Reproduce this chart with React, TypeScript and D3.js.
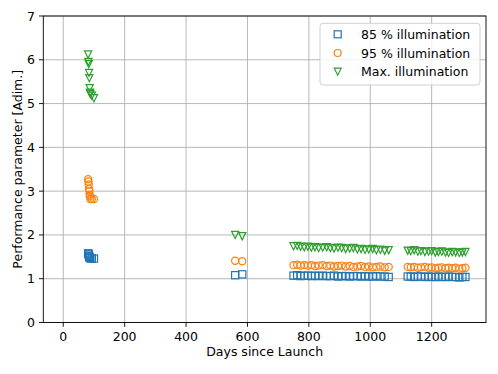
import React from "react";
import * as d3 from "d3";

const earlyDays = [81, 82, 83, 84, 85, 86, 87, 88, 93, 100];
const earlyMax = [6.12, 5.95, 5.9, 5.7, 5.58, 5.35, 5.25, 5.22, 5.18, 5.12];
const early95 = [3.27, 3.22, 3.15, 3.05, 3.0, 2.92, 2.88, 2.82, 2.82, 2.82];
const early85 = [1.58, 1.57, 1.55, 1.52, 1.5, 1.48, 1.47, 1.47, 1.46, 1.46];

const midDays = [560, 583];
const midMax = [2.0, 1.97];
const mid95 = [1.41, 1.4];
const mid85 = [1.08, 1.1];

const lateDays1 = [750, 762, 773, 785, 797, 808, 820, 832, 845, 858, 870, 882, 895, 907, 920, 933, 945, 958, 970, 983, 995, 1008, 1020, 1033, 1047, 1060];
const lateMax1 = [1.74, 1.75, 1.73, 1.72, 1.73, 1.71, 1.72, 1.7, 1.71, 1.72, 1.7, 1.69, 1.71, 1.7, 1.68, 1.69, 1.7, 1.67, 1.68, 1.66, 1.67, 1.68, 1.65, 1.66, 1.64, 1.65];
const late951 = [1.31, 1.32, 1.3, 1.31, 1.3, 1.31, 1.29, 1.3, 1.31, 1.29, 1.3, 1.28, 1.29, 1.3, 1.28, 1.29, 1.27, 1.28, 1.29, 1.27, 1.28, 1.26, 1.27, 1.28, 1.26, 1.27];
const late851 = [1.07, 1.08, 1.06, 1.07, 1.07, 1.06, 1.07, 1.06, 1.07, 1.06, 1.06, 1.07, 1.05, 1.06, 1.06, 1.05, 1.06, 1.06, 1.05, 1.06, 1.05, 1.05, 1.06, 1.05, 1.05, 1.04];

const lateDays2 = [1122, 1132, 1143, 1155, 1165, 1178, 1190, 1200, 1212, 1222, 1233, 1245, 1255, 1267, 1278, 1290, 1300, 1310];
const lateMax2 = [1.64, 1.63, 1.65, 1.62, 1.63, 1.61, 1.62, 1.63, 1.6, 1.61, 1.62, 1.6, 1.59, 1.61, 1.6, 1.59, 1.6, 1.61];
const late952 = [1.27, 1.26, 1.27, 1.25, 1.26, 1.27, 1.25, 1.26, 1.24, 1.25, 1.26, 1.24, 1.25, 1.24, 1.25, 1.23, 1.24, 1.25];
const late852 = [1.05, 1.05, 1.04, 1.05, 1.05, 1.04, 1.05, 1.04, 1.04, 1.05, 1.04, 1.04, 1.05, 1.04, 1.04, 1.03, 1.04, 1.04];

const xTicks = [0, 200, 400, 600, 800, 1000, 1200];
const yTicks = [0, 1, 2, 3, 4, 5, 6, 7];
const seriesLabels = ["85 % illumination", "95 % illumination", "Max. illumination"];
const seriesColors = ["#1f77b4", "#ff7f0e", "#2ca02c"];

const allDays = [...earlyDays, ...midDays, ...lateDays1, ...lateDays2];
const vals85 = [...early85, ...mid85, ...late851, ...late852];
const vals95 = [...early95, ...mid95, ...late951, ...late952];
const valsMax = [...earlyMax, ...midMax, ...lateMax1, ...lateMax2];

const W = 498, H = 374;
const L = 43.3, R = 486, T = 16, B = 322.5;
const FONT = "'DejaVu Sans', sans-serif";
const FS = 12.5;

export default function App() {
  const x = d3.scaleLinear().domain([-65, 1377]).range([L, R]);
  const y = d3.scaleLinear().domain([0, 7]).range([B, T]);
  const ms = 7.2;
  const sw = 1.2;

  const marker = (kind: number, cx: number, cy: number, key: string, size = ms) => {
    const c = seriesColors[kind];
    const h = size / 2;
    if (kind === 0)
      return <rect key={key} x={cx - h} y={cy - h} width={size} height={size} fill="none" stroke={c} strokeWidth={sw} />;
    if (kind === 1)
      return <circle key={key} cx={cx} cy={cy} r={h} fill="none" stroke={c} strokeWidth={sw} />;
    return (
      <path key={key} d={`M${cx - h},${cy - h}L${cx + h},${cy - h}L${cx},${cy + h}Z`} fill="none" stroke={c} strokeWidth={sw} strokeLinejoin="miter" />
    );
  };

  const series = [vals85, vals95, valsMax];

  return (
    <svg width={W} height={H} style={{ position: "absolute", left: 0, top: 0, background: "#fff" }} fontFamily={FONT}>
      <rect width={W} height={H} fill="#fff" />
      {xTicks.map((t) => (
        <line key={"gx" + t} x1={x(t)} x2={x(t)} y1={T} y2={B} stroke="#b0b0b0" strokeWidth={0.9} />
      ))}
      {yTicks.map((t) => (
        <line key={"gy" + t} x1={L} x2={R} y1={y(t)} y2={y(t)} stroke="#b0b0b0" strokeWidth={0.9} />
      ))}
      {series.map((vals, si) => (
        <g key={"s" + si}>{vals.map((v, i) => marker(si, x(allDays[i]), y(v), `m${si}-${i}`))}</g>
      ))}
      <rect x={L} y={T} width={R - L} height={B - T} fill="none" stroke="#000" strokeWidth={0.9} />
      {xTicks.map((t) => (
        <g key={"tx" + t}>
          <line x1={x(t)} x2={x(t)} y1={B} y2={B + 4.3} stroke="#000" strokeWidth={0.9} />
          <text x={x(t)} y={340.5} textAnchor="middle" fontSize={FS} fill="#000">{t}</text>
        </g>
      ))}
      {yTicks.map((t) => (
        <g key={"ty" + t}>
          <line x1={L - 4.3} x2={L} y1={y(t)} y2={y(t)} stroke="#000" strokeWidth={0.9} />
          <text x={L - 8.3} y={y(t) + 4.5} textAnchor="end" fontSize={FS} fill="#000">{t}</text>
        </g>
      ))}
      <text x={(L + R) / 2} y={356} textAnchor="middle" fontSize={FS} fill="#000">Days since Launch</text>
      <text transform={`translate(21.5,${(T + B) / 2}) rotate(-90)`} textAnchor="middle" fontSize={FS} fill="#000">
        Performance parameter [Adim.]
      </text>
      <g>
        <rect x={320} y={23.3} width={160} height={61.7} rx={3} fill="#fff" fillOpacity={0.8} stroke="#cccccc" strokeWidth={0.9} />
        {seriesLabels.map((lab, i) => {
          const cy = 34.3 + i * 18.7;
          return (
            <g key={"lg" + i}>
              {marker(i, 337.7, cy, "lm" + i, 7)}
              <text x={361} y={cy + 4.5} fontSize={FS} fill="#000">{lab}</text>
            </g>
          );
        })}
      </g>
    </svg>
  );
}
